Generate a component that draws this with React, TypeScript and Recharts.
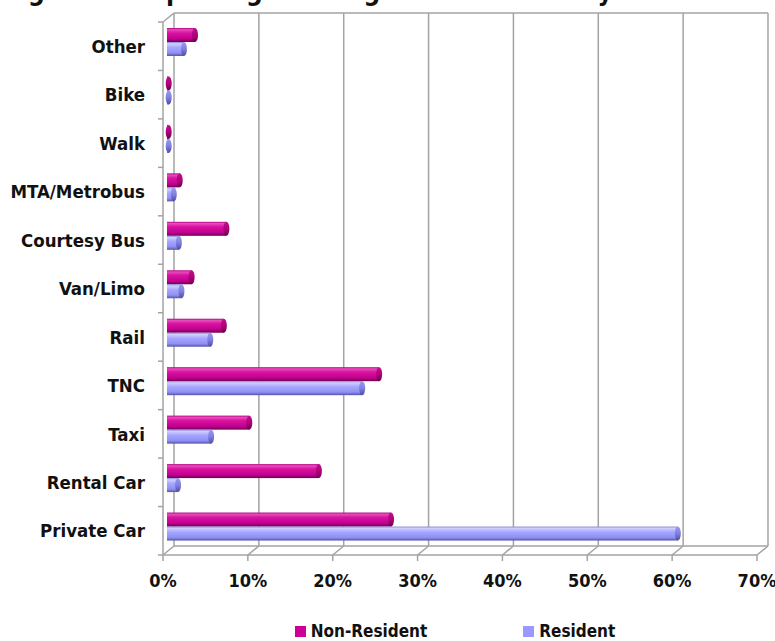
import React from 'react';
import { BarChart, Bar, XAxis, YAxis, CartesianGrid } from 'recharts';

// Ground access modes, listed top to bottom
const modes = [
  'Other',
  'Bike',
  'Walk',
  'MTA/Metrobus',
  'Courtesy Bus',
  'Van/Limo',
  'Rail',
  'TNC',
  'Taxi',
  'Rental Car',
  'Private Car',
];

// Share of passengers (%) by mode
const nonResident = [3.3, 0.2, 0.2, 1.5, 7.0, 2.9, 6.7, 25.0, 9.7, 17.9, 26.4];
const resident = [2.0, 0.2, 0.2, 0.8, 1.4, 1.7, 5.1, 23.0, 5.2, 1.3, 60.2];

const xTicks = [0, 10, 20, 30, 40, 50, 60, 70];

const series = [
  { key: 'nonResident', name: 'Non-Resident', color: '#CC0099' },
  { key: 'resident', name: 'Resident', color: '#9999FF' },
];

const rows = modes.map((mode, i) => ({
  mode,
  nonResident: nonResident[i],
  resident: resident[i],
}));

const W = 775;
const H = 641;
const PLOT_LEFT = 163;
const PLOT_TOP = 22;
const PLOT_BOTTOM = 555;
const PLOT_RIGHT = 757;
// depth of the pseudo-3D box (back wall offset)
const DX = 11;
const DY = 9;
// bars sit midway in the box depth
const BAR_DX = 4;
const BAR_DY = 4;
const BAND = (PLOT_BOTTOM - PLOT_TOP) / modes.length;

const FONT = '"DejaVu Sans Condensed", "DejaVu Sans", sans-serif';
const GRID = '#a3a3a3';
const TEXT = '#111111';

const Cylinder = (props: any) => {
  const { x, y, width, height, gradId, capId } = props;
  if (width == null || height == null) return null;
  const X = x + BAR_DX;
  const Y = y - BAR_DY;
  const w = Math.max(width, 0);
  return (
    <g>
      <rect x={X} y={Y} width={w} height={height} fill={`url(#${gradId})`} />
      <ellipse cx={X + w} cy={Y + height / 2} rx={3} ry={height / 2} fill={`url(#${capId})`} />
    </g>
  );
};

const XTick = (props: any) => {
  const { x, y, payload } = props;
  const axisY = y - 6;
  return (
    <g>
      <line x1={x} y1={axisY} x2={x + DX} y2={axisY - DY} stroke={GRID} strokeWidth={1.5} />
      <text
        x={x}
        y={y + 26}
        textAnchor="middle"
        fontFamily={FONT}
        fontWeight="bold"
        fontStretch="condensed"
        fontSize={18}
        fill={TEXT}
      >
        {`${payload.value}%`}
      </text>
    </g>
  );
};

const YTick = (props: any) => {
  const { x, y, payload, index } = props;
  const top = y - BAND / 2;
  const bottom = y + BAND / 2;
  return (
    <g>
      <line x1={x - 5} y1={top} x2={x} y2={top} stroke={GRID} strokeWidth={1.5} />
      {index === modes.length - 1 && (
        <line x1={x - 5} y1={bottom} x2={x} y2={bottom} stroke={GRID} strokeWidth={1.5} />
      )}
      {index === 0 && (
        <line x1={x} y1={top} x2={x + DX} y2={top - DY} stroke={GRID} strokeWidth={1.5} />
      )}
      <text
        x={x - 18}
        y={y}
        dy="0.36em"
        textAnchor="end"
        fontFamily={FONT}
        fontWeight="bold"
        fontStretch="condensed"
        fontSize={18.5}
        fill={TEXT}
      >
        {payload.value}
      </text>
    </g>
  );
};

const backVerticals = ({ xAxis, offset }: any) =>
  xTicks.map((t) =>
    xAxis && typeof xAxis.scale === 'function'
      ? xAxis.scale(t) + DX
      : offset.left + (t / xTicks[xTicks.length - 1]) * offset.width + DX
  );

const backHorizontals = ({ offset }: any) => [offset.top - DY, offset.top + offset.height - DY];

export default function App() {
  return (
    <div style={{ position: 'absolute', left: 0, top: 0, width: W, height: H, background: '#fff', overflow: 'hidden' }}>
      <BarChart
        width={W}
        height={H}
        layout="vertical"
        data={rows}
        margin={{ top: PLOT_TOP, right: W - PLOT_RIGHT, bottom: H - PLOT_BOTTOM - 40, left: 0 }}
        barGap={0}
        barSize={14}
      >
        <defs>
          <linearGradient id="gNR" x1="0" y1="0" x2="0" y2="1">
            <stop offset="0%" stopColor="#b0007e" />
            <stop offset="12%" stopColor="#e84cbc" />
            <stop offset="35%" stopColor="#d8139f" />
            <stop offset="75%" stopColor="#c40092" />
            <stop offset="100%" stopColor="#73004f" />
          </linearGradient>
          <linearGradient id="gNRcap" x1="0" y1="0" x2="0" y2="1">
            <stop offset="0%" stopColor="#c0108c" />
            <stop offset="50%" stopColor="#b0007e" />
            <stop offset="100%" stopColor="#6a0048" />
          </linearGradient>
          <linearGradient id="gR" x1="0" y1="0" x2="0" y2="1">
            <stop offset="0%" stopColor="#8686dd" />
            <stop offset="12%" stopColor="#cfcfff" />
            <stop offset="40%" stopColor="#a6a6ff" />
            <stop offset="78%" stopColor="#9090f4" />
            <stop offset="100%" stopColor="#5555a8" />
          </linearGradient>
          <linearGradient id="gRcap" x1="0" y1="0" x2="0" y2="1">
            <stop offset="0%" stopColor="#9a9af0" />
            <stop offset="50%" stopColor="#8080e0" />
            <stop offset="100%" stopColor="#4e4e9e" />
          </linearGradient>
        </defs>
        <CartesianGrid
          x={PLOT_LEFT + DX}
          y={PLOT_TOP - DY}
          width={PLOT_RIGHT - PLOT_LEFT}
          height={PLOT_BOTTOM - PLOT_TOP}
          stroke={GRID}
          strokeWidth={1.5}
          fill="none"
          verticalCoordinatesGenerator={backVerticals}
          horizontalCoordinatesGenerator={backHorizontals}
        />
        <XAxis
          type="number"
          domain={[0, 70]}
          ticks={xTicks}
          interval={0}
          height={40}
          tickSize={6}
          tickMargin={0}
          axisLine={{ stroke: GRID, strokeWidth: 1.5 }}
          tickLine={{ stroke: GRID, strokeWidth: 1.5 }}
          tick={<XTick />}
        />
        <YAxis
          type="category"
          dataKey="mode"
          width={PLOT_LEFT}
          interval={0}
          tickSize={0}
          tickMargin={0}
          tickLine={false}
          axisLine={{ stroke: GRID, strokeWidth: 1.5 }}
          tick={<YTick />}
        />
        <Bar
          dataKey="nonResident"
          name="Non-Resident"
          fill={series[0].color}
          isAnimationActive={false}
          shape={(p: any) => <Cylinder {...p} gradId="gNR" capId="gNRcap" />}
        />
        <Bar
          dataKey="resident"
          name="Resident"
          fill={series[1].color}
          isAnimationActive={false}
          shape={(p: any) => <Cylinder {...p} gradId="gR" capId="gRcap" />}
        />
      </BarChart>

      <svg
        width={W}
        height={H}
        style={{ position: 'absolute', left: 0, top: 0, pointerEvents: 'none' }}
      >
        <text x={4} y={0} fontFamily={FONT} fontWeight="bold" fontSize={26} fill={TEXT}>
          Figure 9: Departing Passenger Mode Share by Resident Status
        </text>
      </svg>

      <div
        style={{
          position: 'absolute',
          left: PLOT_LEFT - 5,
          width: PLOT_RIGHT - PLOT_LEFT,
          top: 621,
          display: 'flex',
          justifyContent: 'center',
          gap: 96,
          fontFamily: FONT,
          fontWeight: 'bold',
          fontStretch: 'condensed',
          fontSize: 17,
          lineHeight: '20px',
          color: TEXT,
        }}
      >
        {series.map((s) => (
          <div key={s.key} style={{ display: 'flex', alignItems: 'center', gap: 5 }}>
            <span style={{ display: 'inline-block', width: 11, height: 11, background: s.color }} />
            <span>{s.name}</span>
          </div>
        ))}
      </div>
    </div>
  );
}
